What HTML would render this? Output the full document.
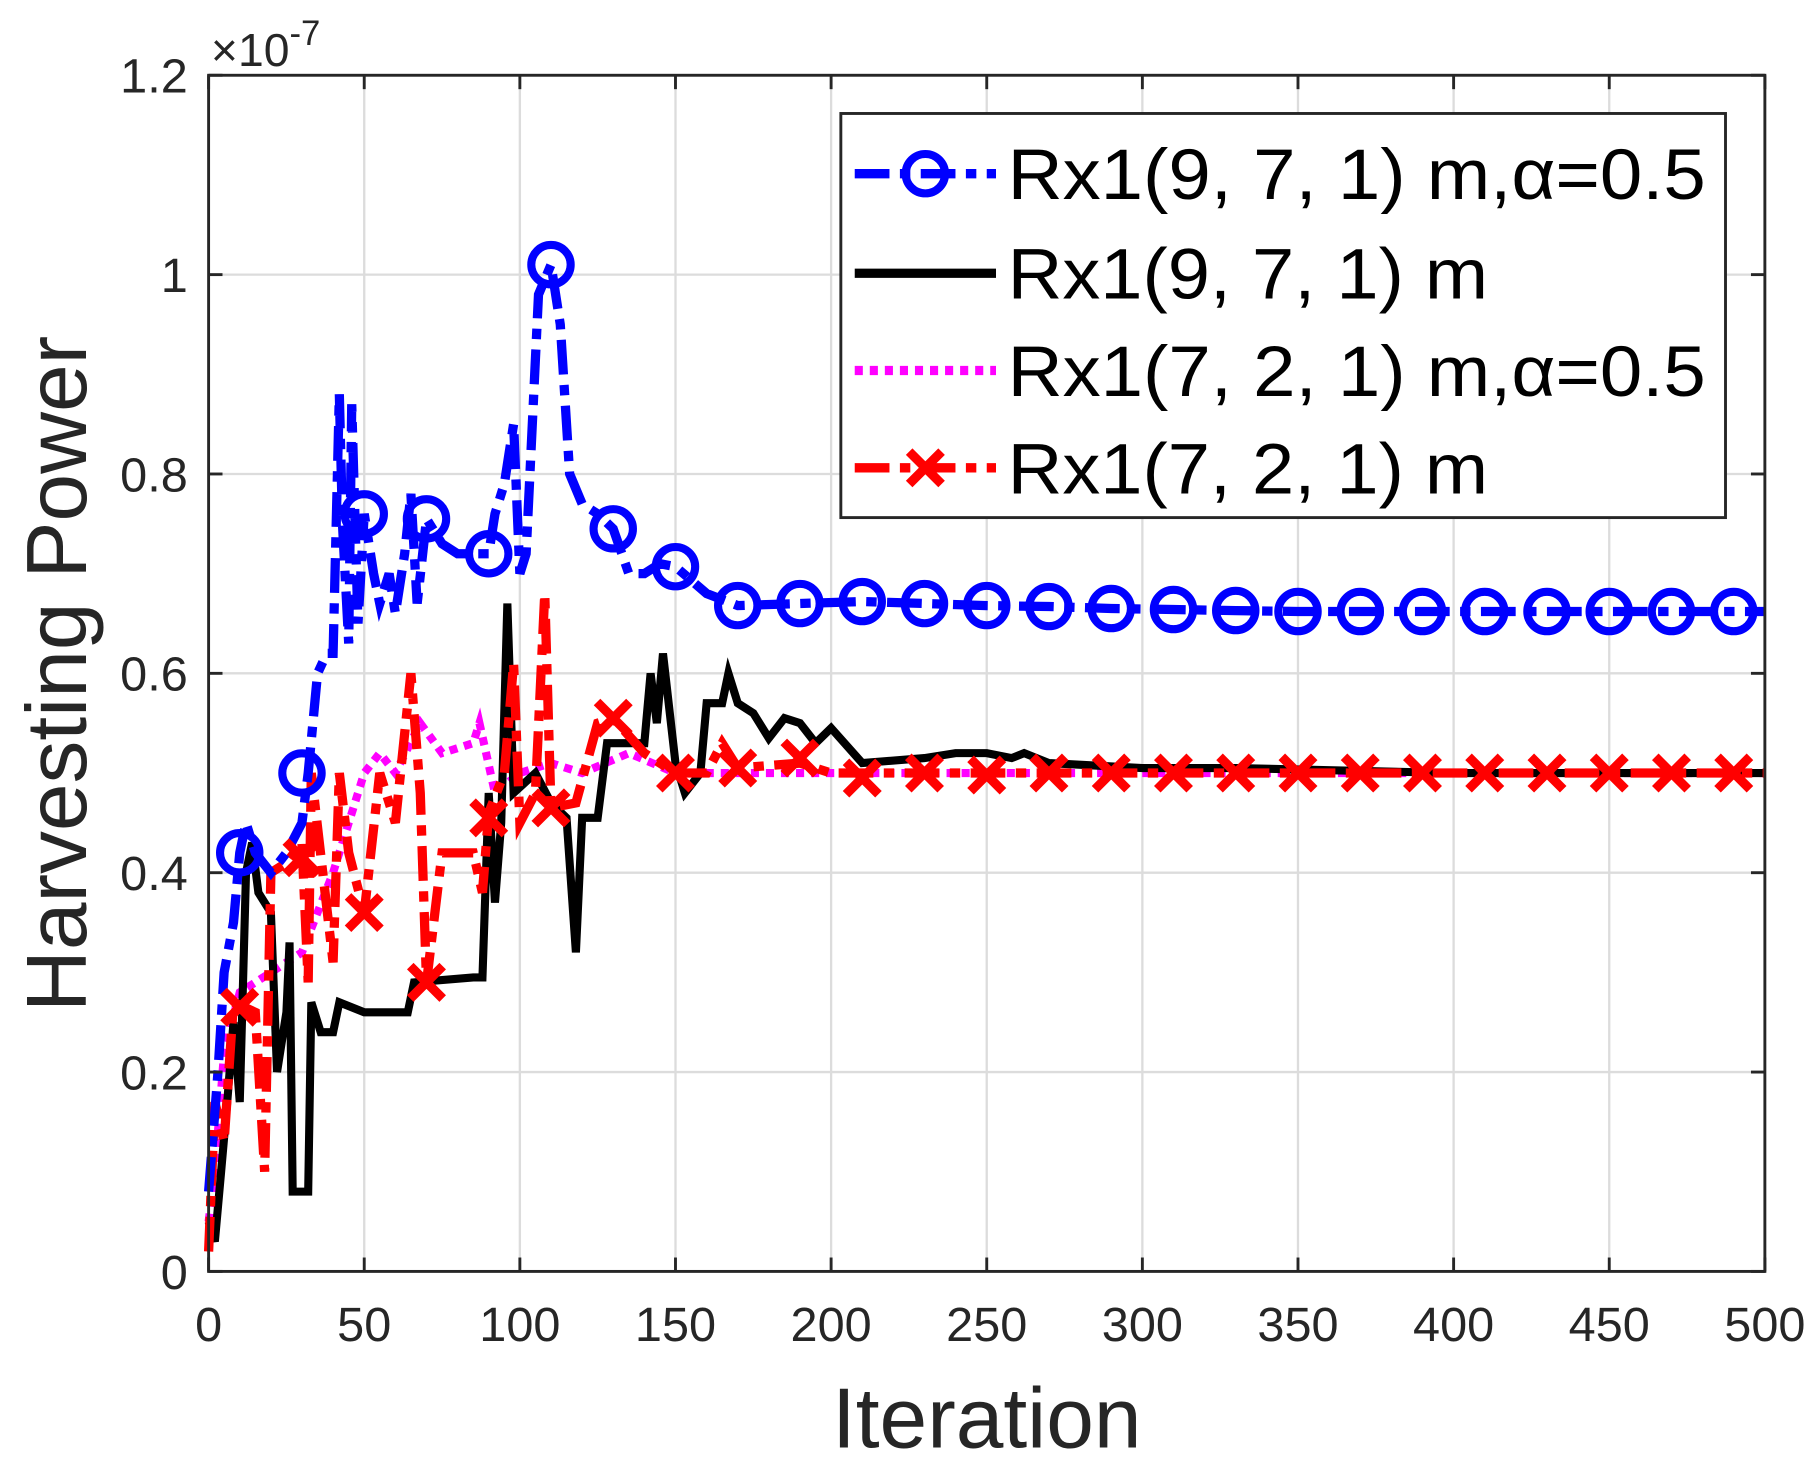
<!DOCTYPE html>
<html><head><meta charset="utf-8"><style>
html,body{margin:0;padding:0;background:#fff}
svg{display:block}
text{font-family:"Liberation Sans",Arial,sans-serif;fill:#262626}
</style></head><body>
<svg id="chart" width="1816" height="1481" viewBox="0 0 1568 1279" xmlns="http://www.w3.org/2000/svg">
<g id="grid"></g>
<g id="series"></g>
<g id="axes"></g>
<text x="182" y="57" font-size="40">×10<tspan dy="-18" font-size="30">-7</tspan></text>
<text x="0" y="0" font-size="74" text-anchor="middle" transform="translate(74,582) rotate(-90)">Harvesting Power</text>
<text x="852" y="1250" font-size="74" text-anchor="middle">Iteration</text>
<g id="legend"></g>
</svg>
<script>
const xTicks=[0,50,100,150,200,250,300,350,400,450,500];
const yTicks=[0,0.2,0.4,0.6,0.8,1,1.2];
const yTickLabels=["0","0.2","0.4","0.6","0.8","1","1.2"];
const blueX=[0,3,5,8,10,12,15,20,25,30,32,35,38,40,42,43,45,46,48,50,53,55,58,60,63,65,67,70,75,80,90,92,95,98,100,102,106,110,113,116,120,125,130,135,140,145,150,160,170,190,210,230,250,270,290,310,330,350,400,500];
const blueY=[0.08,0.2,0.3,0.35,0.42,0.45,0.42,0.40,0.42,0.45,0.50,0.60,0.62,0.62,0.88,0.75,0.63,0.87,0.65,0.76,0.70,0.67,0.70,0.66,0.72,0.78,0.67,0.755,0.73,0.72,0.72,0.76,0.79,0.85,0.70,0.72,0.98,1.01,0.95,0.80,0.77,0.76,0.745,0.70,0.70,0.71,0.707,0.68,0.668,0.67,0.672,0.67,0.668,0.667,0.665,0.664,0.663,0.662,0.662,0.662];
const blueMarkX=[10,30,50,70,90,110,130,150,170,190,210,230,250,270,290,310,330,350,370,390,410,430,450,470,490];
const blueMarkY=[0.42,0.50,0.76,0.755,0.72,1.01,0.745,0.707,0.668,0.67,0.672,0.67,0.668,0.667,0.665,0.664,0.663,0.662,0.662,0.662,0.662,0.662,0.662,0.662,0.662];
const blackX=[0,2,4,6,8,10,12,14,16,20,22,25,26,27,32,33,36,40,42,50,64,66,85,88,90,92,94,96,98,105,110,115,118,120,125,128,140,142,144,146,150,153,158,160,165,167,170,175,180,185,190,195,200,210,230,240,250,258,262,270,300,330,400,500];
const blackY=[0.05,0.03,0.10,0.17,0.25,0.17,0.40,0.43,0.38,0.36,0.20,0.26,0.33,0.08,0.08,0.27,0.24,0.24,0.27,0.26,0.26,0.29,0.295,0.295,0.48,0.37,0.45,0.67,0.48,0.50,0.47,0.455,0.32,0.455,0.455,0.53,0.53,0.60,0.55,0.62,0.51,0.48,0.50,0.57,0.57,0.60,0.57,0.56,0.535,0.555,0.55,0.53,0.545,0.51,0.515,0.52,0.52,0.515,0.52,0.51,0.505,0.505,0.50,0.50];
const magX=[0,2,5,10,20,30,40,45,50,55,60,68,75,85,87,92,100,110,120,135,150,500];
const magY=[0.05,0.10,0.22,0.28,0.30,0.32,0.40,0.45,0.50,0.52,0.50,0.55,0.52,0.53,0.55,0.48,0.50,0.51,0.50,0.52,0.50,0.50];
const redX=[0,2,5,8,15,18,20,25,30,32,33,40,42,45,50,55,60,65,68,70,75,85,88,90,95,98,100,105,108,110,118,125,130,140,150,160,165,170,190,200,500];
const redY=[0.02,0.17,0.13,0.27,0.26,0.10,0.40,0.41,0.43,0.29,0.50,0.31,0.50,0.42,0.36,0.50,0.45,0.60,0.48,0.29,0.42,0.42,0.38,0.46,0.50,0.61,0.45,0.48,0.68,0.465,0.47,0.55,0.555,0.52,0.50,0.50,0.53,0.505,0.51,0.50,0.50];
const redMarkX=[10,30,50,70,90,110,130,150,170,190,210,230,250,270,290,310,330,350,370,390,410,430,450,470,490];
const redMarkY=[0.265,0.415,0.36,0.29,0.455,0.465,0.555,0.50,0.505,0.515,0.495,0.50,0.498,0.50,0.50,0.50,0.50,0.50,0.50,0.50,0.50,0.50,0.50,0.50,0.50];
const legendLabels=["Rx1(9, 7, 1) m,α=0.5","Rx1(9, 7, 1) m","Rx1(7, 2, 1) m,α=0.5","Rx1(7, 2, 1) m"];

const L=180,R=1524,T=65,B=1098;
const sx=v=>L+(v/500)*(R-L);
const sy=v=>B-(v/1.2)*(B-T);
const NS="http://www.w3.org/2000/svg";
function mk(tag,parent,attrs){const e=document.createElementNS(NS,tag);for(const k in attrs)e.setAttribute(k,attrs[k]);parent.appendChild(e);return e;}
const grid=document.getElementById('grid'),axes=document.getElementById('axes'),ser=document.getElementById('series'),leg=document.getElementById('legend');
xTicks.forEach(t=>{
 const g=mk('line',grid,{x1:sx(t),x2:sx(t),y1:T,y2:B,stroke:'#dcdcdc','stroke-width':2});
 
 
 [[B,B-12],[T,T+12]].forEach(p=>{const tk=mk('line',axes,{x1:sx(t),x2:sx(t),y1:p[0],y2:p[1],stroke:'#262626','stroke-width':2.5});
 
 });
 const tx=mk('text',axes,{x:sx(t),y:B+60,'font-size':42,'text-anchor':'middle'});tx.textContent=t;
 
 
});
yTicks.forEach((t,i)=>{
 const g=mk('line',grid,{x1:L,x2:R,y1:sy(t),y2:sy(t),stroke:'#dcdcdc','stroke-width':2});
 
 
 [[L,L+12],[R,R-12]].forEach(p=>{const tk=mk('line',axes,{x1:p[0],x2:p[1],y1:sy(t),y2:sy(t),stroke:'#262626','stroke-width':2.5});
 
 });
 const tx=mk('text',axes,{x:L-18,y:sy(t)+15,'font-size':42,'text-anchor':'end'});tx.textContent=yTickLabels[i];
 
 
});
const box=mk('rect',axes,{x:L,y:T,width:R-L,height:B-T,fill:'none',stroke:'#262626','stroke-width':2.5});



function path(xs,ys,style,name){const d=xs.map((x,i)=>(i?'L':'M')+sx(x).toFixed(1)+','+sy(ys[i]).toFixed(1)).join('');
 const p=mk('path',ser,Object.assign({d:d,fill:'none','stroke-linejoin':'miter'},style));
 
 }
function circle(x,y,g){const c=mk('circle',g,{cx:x,cy:y,r:17,fill:'none',stroke:'#0000ff','stroke-width':7});
 
 }
function cross(x,y,g){const c=mk('path',g,{d:`M${x-14},${y-14}L${x+14},${y+14}M${x-14},${y+14}L${x+14},${y-14}`,stroke:'#ff0000','stroke-width':8,fill:'none'});
 
 }

path(magX,magY,{stroke:'#ff00ff','stroke-width':7,'stroke-dasharray':'7 6'},'series-rx1-721-alpha');
path(blackX,blackY,{stroke:'#000','stroke-width':7},'series-rx1-971');
path(redX,redY,{stroke:'#ff0000','stroke-width':8,'stroke-dasharray':'30 9 9 9'},'series-rx1-721');
path(blueX,blueY,{stroke:'#0000ff','stroke-width':8,'stroke-dasharray':'30 9 9 9'},'series-rx1-971-alpha');
blueMarkX.forEach((x,i)=>circle(sx(x),sy(blueMarkY[i]),ser));
redMarkX.forEach((x,i)=>cross(sx(x),sy(redMarkY[i]),ser));

const lb=mk('rect',leg,{x:726,y:98,width:764,height:349,fill:'#fff',stroke:'#262626','stroke-width':2.5});


const ly=[150,236,320,404];
const lstyles=[{stroke:'#0000ff','stroke-width':8,'stroke-dasharray':'30 9 9 9'},{stroke:'#000','stroke-width':8},{stroke:'#ff00ff','stroke-width':8,'stroke-dasharray':'7 6'},{stroke:'#ff0000','stroke-width':8,'stroke-dasharray':'30 9 9 9'}];
legendLabels.forEach((lab,i)=>{
 const ln=mk('line',leg,Object.assign({x1:738,x2:860,y1:ly[i],y2:ly[i]},lstyles[i]));
 
 
 if(i===0)circle(799,ly[i],leg);
 if(i===3)cross(799,ly[i],leg);
 const t=mk('text',leg,{x:870,y:ly[i]+22,'font-size':62,textLength:603,lengthAdjust:'spacingAndGlyphs'});t.textContent=lab;t.style.fill='#000';
 if(i===1||i===3){t.setAttribute('textLength',415);}
 
 
});
</script>
</body></html>
